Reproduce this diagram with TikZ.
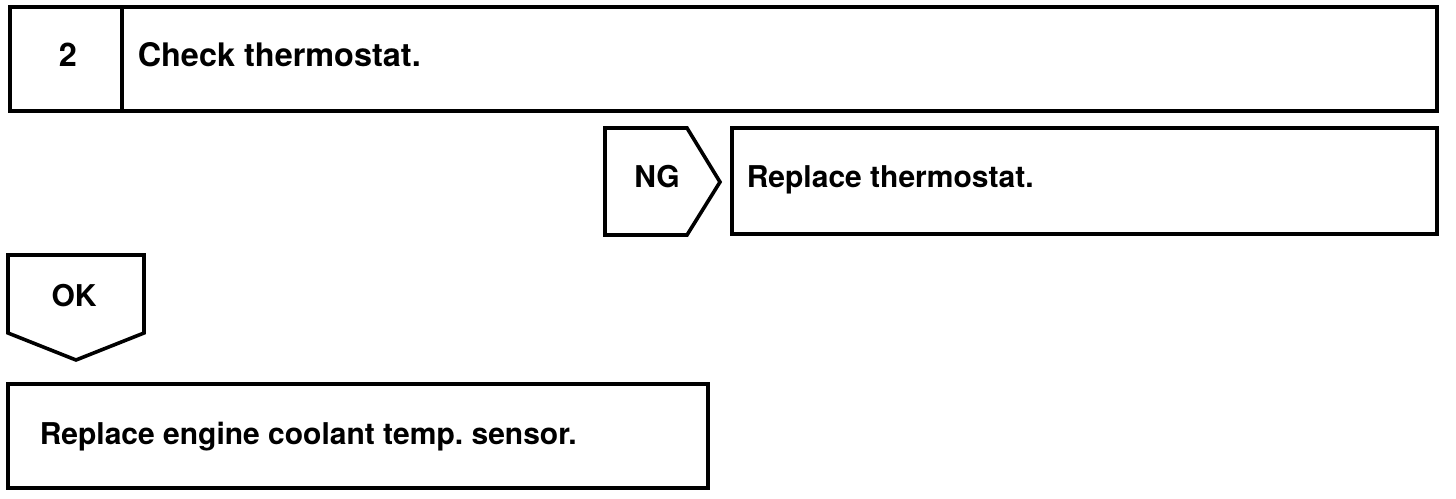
\documentclass[tikz,border=0pt]{standalone}
\usepackage{fontspec}
\setmainfont{TeX Gyre Heros}
\frenchspacing

\begin{document}
\begin{tikzpicture}[x=0.5pt, y=-0.5pt, line width=1.8pt, line join=miter,
  txt/.style={font=\bfseries\fontsize{15}{18}\selectfont, inner sep=0pt, anchor=base west},
  head/.style={txt, font=\bfseries\fontsize{16.2}{19}\selectfont}]
  \useasboundingbox (0, 0) rectangle (1456, 498);

  % Step box
  \draw (10, 7) rectangle (1437, 111);
  \draw (122, 7) -- (122, 111);
  \node[head, anchor=base] (num) at (68, 66) {2};
  \node[head] (check) at (136, 66) {Check thermostat.};

  % NG branch
  \draw (605, 128) -- (687, 128) -- (720, 182) -- (687, 235) -- (605, 235) -- cycle;
  \node[txt, anchor=base] (ng) at (657, 187) {NG};
  \draw (732, 128) rectangle (1437, 234);
  \node[txt] (thermo) at (745, 187) {Replace thermostat.};

  % OK branch
  \draw (8, 255) -- (144, 255) -- (144, 333) -- (76, 360) -- (8, 333) -- cycle;
  \node[txt, anchor=base] (ok) at (74, 306) {OK};
  \draw (8, 384) rectangle (708, 488);
  \node[txt] (sensor) at (38, 444) {Replace engine coolant temp. sensor.};
\end{tikzpicture}
\end{document}
